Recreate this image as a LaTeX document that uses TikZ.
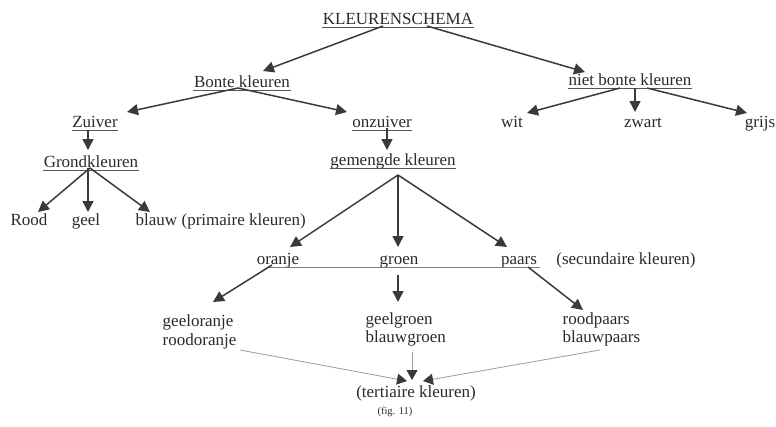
\documentclass[tikz,border=0pt]{standalone}
\usepackage{fontspec}
\setmainfont{Liberation Serif}
\usetikzlibrary{arrows.meta,calc}
\definecolor{ink}{HTML}{2A2A2A}
\definecolor{arr}{HTML}{3A3A3A}
\definecolor{thin}{HTML}{9A9A9A}
\tikzset{
  lbl/.style={anchor=base,inner sep=0.5pt,text=ink,font=\fontsize{17}{20}\selectfont},
  lblw/.style={lbl,anchor=base west},
  small/.style={lbl,font=\fontsize{10.5}{12}\selectfont},
  thick arrow/.style={draw=arr,line width=1.5pt,-{Triangle[length=11pt,width=11pt]}},
  thin arrow/.style={draw=thin,line width=0.8pt,-{Triangle[length=10pt,width=11pt,color=arr]}},
  ulline/.style={draw=ink!80,line width=0.8pt},
  hline/.style={draw=thin!80!black,line width=0.9pt}
}
\begin{document}
\begin{tikzpicture}[x=1pt,y=-1pt]
\useasboundingbox (0,0) rectangle (776,426);
% nodes
\node[lbl] (k) at (398,24) {KLEURENSCHEMA};
\node[lbl] (b) at (242,87) {Bonte kleuren};
\node[lbl] (n) at (630,85) {niet bonte kleuren};
\node[lbl] (wit) at (512,127) {wit};
\node[lbl] (zw) at (643,127) {zwart};
\node[lbl] (gr) at (760,127) {grijs};
\node[lbl] (z) at (95,127) {Zuiver};
\node[lbl] (o) at (382,127) {onzuiver};
\node[lbl] (g) at (91,167) {Grondkleuren};
\node[lbl] (m) at (393,165) {gemengde kleuren};
\node[lbl] (rood) at (29,225) {Rood};
\node[lbl] (geel) at (86,225) {geel};
\node[lblw] (bl) at (135,225) {blauw};
\node[lblw] (pk) at ($(bl.base east)+(3,0)$) {(primaire kleuren)};
\node[lbl] (or) at (278,264) {oranje};
\node[lbl] (gn) at (399,264) {groen};
\node[lbl] (pa) at (519,264) {paars};
\node[lbl] (sk) at (626,264) {(secundaire kleuren)};
\node[lblw] (go) at (162,326) {geeloranje};
\node[lblw] (ro) at (162,345) {roodoranje};
\node[lblw] (gg) at (365,324) {geelgroen};
\node[lblw] (bg) at (365,342) {blauwgroen};
\node[lblw] (rp) at (562,324) {roodpaars};
\node[lblw] (bp) at (562,342) {blauwpaars};
\node[lbl] (ter) at (416,397) {(tertiaire kleuren)};
\node[small] (fig) at (395,414) {(fig. 11)};
% underlines
\foreach \nn in {k,b,n,z,o,g,m}
  \draw[ulline] ($(\nn.base west)+(0,3)$) -- ($(\nn.base east)+(0,3)$);
% horizontal line under secondary colours
\draw[hline] ($(or.base)+(-10,3)$) -- ($(pa.base)+(21,3)$);
% thick arrows
\draw[thick arrow] ($(k.base)+(-15,2)$) -- ($(b.base)+(21,-16)$);
\draw[thick arrow] ($(k.base)+(29,2)$) -- ($(n.base)+(-45,-13)$);
\draw[thick arrow] ($(b.base)+(-4,1)$) -- ($(z.base)+(32,-15)$);
\draw[thick arrow] ($(b.base)+(-4,1)$) -- ($(o.base)+(-35,-15)$);
\draw[thick arrow] ($(n.base)+(-10,3)$) -- ($(wit.base)+(15,-14)$);
\draw[thick arrow] ($(n.base)+(5,3)$) -- ($(zw.base)+(-8,-15)$);
\draw[thick arrow] ($(n.base)+(17,3)$) -- ($(gr.base)+(-13,-14)$);
\draw[thick arrow] ($(z.base)+(-7,3)$) -- ($(g.base)+(-3,-17)$);
\draw[thick arrow] ($(o.base)+(5,1)$) -- ($(m.base)+(-6,-15)$);
\draw[thick arrow] ($(g.base)+(-1,1)$) -- ($(rood.base)+(9,-13)$);
\draw[thick arrow] ($(g.base)+(-3,1)$) -- ($(geel.base)+(2,-13)$);
\draw[thick arrow] ($(g.base)+(-1,1)$) -- ($(bl.base west)+(15,-13)$);
\draw[thick arrow] ($(m.base)+(5,10)$) -- ($(or.base)+(12,-17)$);
\draw[thick arrow] ($(m.base)+(5,10)$) -- ($(gn.base)+(-1,-17)$);
\draw[thick arrow] ($(m.base)+(5,10)$) -- ($(pa.base)+(-12,-17)$);
\draw[thick arrow] ($(or.base)+(-6,1)$) -- ($(go.base west)+(51,-24)$);
\draw[thick arrow] ($(gn.base)+(-1,11)$) -- ($(gg.base west)+(33,-22)$);
\draw[thick arrow] ($(pa.base)+(9,3)$) -- ($(rp.base west)+(21,-14)$);
% thin arrows to tertiary colours
\draw[thin arrow] ($(ro.base east)+(3,5)$) -- ($(ter.base)+(-9,-16)$);
\draw[thin arrow] ($(bg.base west)+(47,10)$) -- ($(ter.base)+(-4,-17)$);
\draw[thin arrow] ($(bp.base west)+(38,8)$) -- ($(ter.base)+(7,-16)$);
\end{tikzpicture}
\end{document}
